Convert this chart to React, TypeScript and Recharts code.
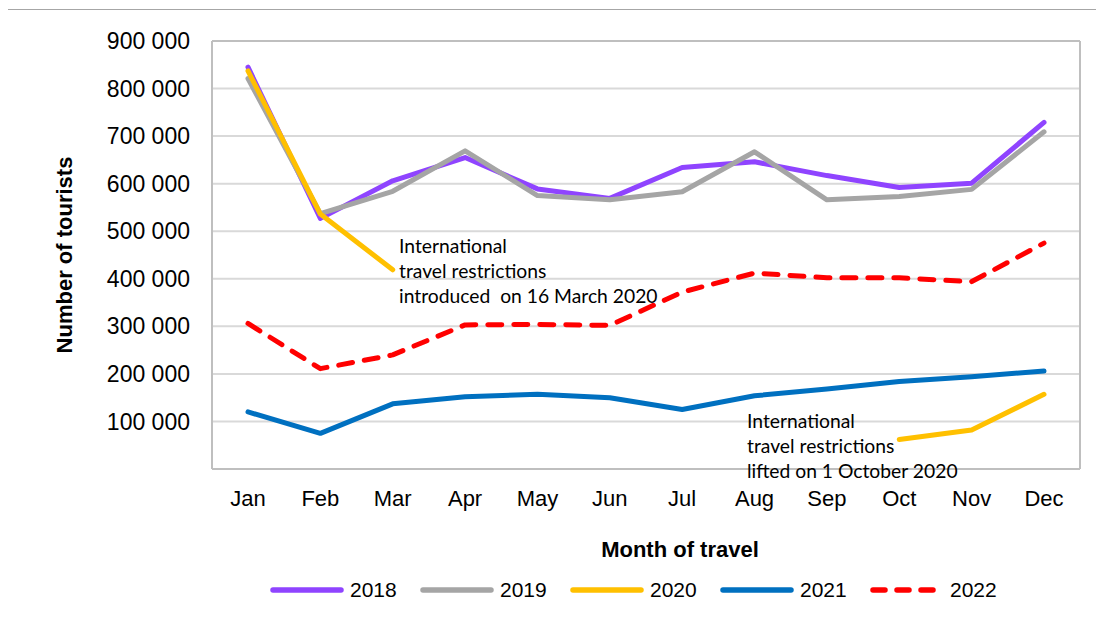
import { LineChart, Line, XAxis, YAxis, CartesianGrid, Legend } from 'recharts';

const months = ['Jan', 'Feb', 'Mar', 'Apr', 'May', 'Jun', 'Jul', 'Aug', 'Sep', 'Oct', 'Nov', 'Dec'];
const y2018 = [845000, 527000, 606000, 655000, 589000, 569000, 634000, 646000, 617000, 592000, 601000, 729000];
const y2019 = [821000, 537000, 584000, 669000, 575000, 566000, 583000, 667000, 566000, 573000, 588000, 709000];
const y2020 = [837000, 536000, 419000, null, null, null, null, null, null, 62000, 82000, 157000];
const y2021 = [120000, 75000, 137000, 152000, 157000, 150000, 125000, 154000, 168000, 184000, 194000, 206000];
const y2022 = [306000, 211000, 240000, 303000, 304000, 302000, 372000, 412000, 402000, 402000, 394000, 475000];
const yTicks = [0, 100000, 200000, 300000, 400000, 500000, 600000, 700000, 800000, 900000];

const series = [
  { key: 'y2018', name: '2018', color: '#8F44FF', dash: undefined },
  { key: 'y2019', name: '2019', color: '#A5A5A5', dash: undefined },
  { key: 'y2020', name: '2020', color: '#FFC000', dash: undefined },
  { key: 'y2021', name: '2021', color: '#0070C0', dash: undefined },
  { key: 'y2022', name: '2022', color: '#FF0000', dash: '14 12' },
];

const data = months.map((m, i) => ({
  month: m,
  y2018: y2018[i],
  y2019: y2019[i],
  y2020: y2020[i],
  y2021: y2021[i],
  y2022: y2022[i],
}));

const font = '"Liberation Sans", Arial, sans-serif';
const noteFont = 'Lato, "Open Sans", sans-serif';
const borderColor = '#BFBFBF';

const fmt = (v: number) => (v === 0 ? '' : v.toLocaleString('en-US').replace(/,/g, ' '));

// plot-area frame, taken from the chart's own offset
const frameX = ({ offset }: any) => [offset.left, offset.left + offset.width];
const frameY = ({ offset }: any) => [offset.top, offset.top + offset.height];

const YLabel = ({ viewBox }: any) => {
  const cx = viewBox.x + 64;
  const cy = viewBox.y + viewBox.height / 2;
  return (
    <text x={cx} y={cy} transform={`rotate(-90, ${cx}, ${cy})`} textAnchor='middle'
      dominantBaseline='central' fontFamily={font} fontSize={22} fontWeight='bold' fill='#000'>
      Number of tourists
    </text>
  );
};

const XLabel = ({ viewBox }: any) => (
  <text x={viewBox.x + viewBox.width / 2 + 34} y={viewBox.y + 80} textAnchor='middle'
    dominantBaseline='central' fontFamily={font} fontSize={22} fontWeight='bold' fill='#000'>
    Month of travel
  </text>
);

const renderLegend = () => (
  <div style={{ height: 40, display: 'flex', alignItems: 'center', paddingLeft: 270 }}>
    {series.map((s) => (
      <div key={s.key} style={{ display: 'flex', alignItems: 'center', width: 150 }}>
        <svg width={74} height={10} style={{ marginRight: 6 }}>
          <line x1={3} y1={5} x2={71} y2={5} stroke={s.color} strokeWidth={5.5}
            strokeLinecap='round' strokeDasharray={s.dash ? '12 12' : undefined} />
        </svg>
        <span style={{ fontFamily: font, fontSize: 21, color: '#000' }}>{s.name}</span>
      </div>
    ))}
  </div>
);

const noteStyle: any = {
  position: 'absolute',
  fontFamily: noteFont,
  fontSize: 19.3,
  lineHeight: '25px',
  color: '#000',
  whiteSpace: 'pre',
};

export default function App() {
  return (
    <div style={{ position: 'relative', margin: -8, width: 1104, height: 642, overflow: 'hidden', background: '#fff' }}>
      <LineChart width={1104} height={642} data={data} margin={{ top: 41, right: 24, bottom: 38, left: 0 }}>
        <CartesianGrid vertical={false} stroke='#D9D9D9' strokeWidth={2} />
        <CartesianGrid stroke={borderColor} strokeWidth={2}
          horizontalCoordinatesGenerator={frameY} verticalCoordinatesGenerator={frameX} />
        <XAxis dataKey='month' height={95} padding={{ left: 36, right: 36 }} tickLine={false} tickSize={0}
          tickMargin={21} axisLine={{ stroke: borderColor, strokeWidth: 2 }} interval={0}
          tick={{ fill: '#000', fontSize: 22, fontFamily: font }} label={{ content: XLabel }} />
        <YAxis width={212} domain={[0, 900000]} ticks={yTicks} interval={0} tickLine={false} tickSize={0}
          tickMargin={22} tickFormatter={fmt} axisLine={{ stroke: borderColor, strokeWidth: 2 }}
          tick={{ fill: '#000', fontSize: 23, fontFamily: font }} label={{ content: YLabel }} />
        <Legend verticalAlign='bottom' content={renderLegend} wrapperStyle={{ left: 0, width: 1104, bottom: 32 }} />
        {series.map((s) => (
          <Line key={s.key} type='linear' dataKey={s.key} name={s.name} stroke={s.color} strokeWidth={5}
            strokeDasharray={s.dash} strokeLinecap='round' strokeLinejoin='round' dot={false}
            activeDot={false} connectNulls={false} isAnimationActive={false} />
        ))}
      </LineChart>
      <div style={{ ...noteStyle, left: 399, top: 233 }}>
        {'International\ntravel restrictions\nintroduced  on 16 March 2020'}
      </div>
      <div style={{ ...noteStyle, left: 747, top: 408 }}>
        {'International\ntravel restrictions\nlifted on 1 October 2020'}
      </div>
      <div style={{ position: 'absolute', left: 4, top: 9, width: 1130, height: 660, pointerEvents: 'none',
        borderTop: '1px solid #A6A6A6', borderLeft: '2px solid #B0B0B0' }} />
    </div>
  );
}
